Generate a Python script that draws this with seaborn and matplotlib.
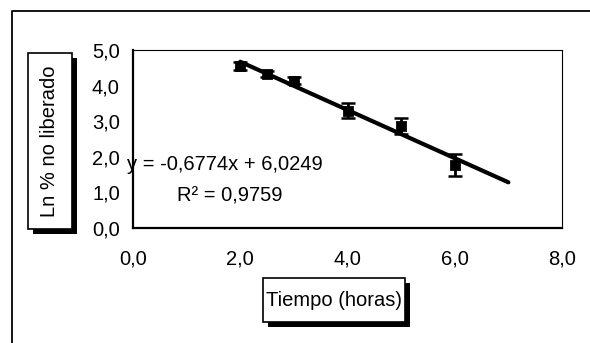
import numpy as np
import pandas as pd
import matplotlib
matplotlib.use("Agg")
import matplotlib.pyplot as plt
from matplotlib.patches import Rectangle
from matplotlib.lines import Line2D
import seaborn as sns

# ---- data ----
tiempo = [2.0, 2.5, 3.0, 4.0, 5.0, 6.0]
ln_no_liberado = [4.55, 4.33, 4.14, 3.30, 2.87, 1.77]
error = [0.10, 0.08, 0.10, 0.20, 0.22, 0.30]
slope = -0.6774
intercept = 6.0249
r2 = 0.9759
trend_x = [2.0, 7.0]
x_ticks = [0, 2, 4, 6, 8]
y_ticks = [0, 1, 2, 3, 4, 5]
x_label = "Tiempo (horas)"
y_label = "Ln % no liberado"

sns.set_style("white")
plt.rcParams['font.family'] = ['Liberation Sans', 'DejaVu Sans']

FS = 14.5
W, H = 590, 343
fig = plt.figure(figsize=(W / 100, H / 100), dpi=100)
fig.patch.set_facecolor("white")

def px(x0, y0, x1, y1):
    return [x0 / W, 1 - y1 / H, (x1 - x0) / W, (y1 - y0) / H]

ax = fig.add_axes(px(133, 50, 562, 228))

df = pd.DataFrame({"t": tiempo, "y": ln_no_liberado, "e": error})
trend = pd.DataFrame({"t": trend_x, "y": [slope * v + intercept for v in trend_x]})

ax.errorbar(df["t"], df["y"], yerr=df["e"], fmt="none", ecolor="black",
            elinewidth=2, capsize=5, capthick=1.8, zorder=3)
sns.scatterplot(data=df, x="t", y="y", marker="s", s=50, color="black",
                edgecolor="black", ax=ax, zorder=4)
sns.lineplot(data=trend, x="t", y="y", color="black", lw=3, ax=ax, zorder=5,
             solid_capstyle="round")

ax.set_xlim(0, 8)
ax.set_ylim(0, 5)
ax.set_xticks(x_ticks)
ax.set_yticks(y_ticks)
ax.set_xticklabels([f"{v:.1f}".replace(".", ",") for v in x_ticks])
ax.set_yticklabels([f"{v:.1f}".replace(".", ",") for v in y_ticks])
ax.set_xlabel("")
ax.set_ylabel("")
ax.tick_params(axis="both", direction="inout", length=11, width=1.5,
               labelsize=FS, colors="black", pad=4)
ax.tick_params(axis="x", pad=10)
for s in ["left", "bottom"]:
    ax.spines[s].set_linewidth(1.6)
    ax.spines[s].set_color("black")
for s in ["top", "right"]:
    ax.spines[s].set_linewidth(0.8)
    ax.spines[s].set_color("black")
    ax.spines[s].set_visible(True)

# equation text
fig.text(127 / W, 1 - 165 / H, "y = -0,6774x + 6,0249", fontsize=FS,
         va="center", ha="left", color="black")
fig.text(177 / W, 1 - 196 / H, "R² = 0,9759", fontsize=FS,
         va="center", ha="left", color="black")

# outer border (left and top)
fig.add_artist(Line2D([12 / W, 12 / W, 1.0], [0.0, 1 - 11 / H, 1 - 11 / H],
                      transform=fig.transFigure, color="black", lw=1.3))

def boxed(x0, y0, x1, y1, text, rot):
    sh = Rectangle(((x0 + 5) / W, 1 - (y1 + 5) / H),
                   (x1 - x0) / W, (y1 - y0) / H, transform=fig.transFigure,
                   facecolor="black", edgecolor="none")
    fig.add_artist(sh)
    bx = Rectangle((x0 / W, 1 - y1 / H), (x1 - x0) / W, (y1 - y0) / H,
                   transform=fig.transFigure, facecolor="white",
                   edgecolor="black", lw=1.2)
    fig.add_artist(bx)
    fig.text((x0 + x1) / 2 / W, 1 - (y0 + y1) / 2 / H, text, rotation=rot,
             ha="center", va="center", fontsize=FS, color="black")

boxed(28, 53, 72, 229, y_label, 90)
boxed(263, 278, 405, 322, x_label, 0)

fig.savefig("out.png", dpi=100, facecolor="white")
